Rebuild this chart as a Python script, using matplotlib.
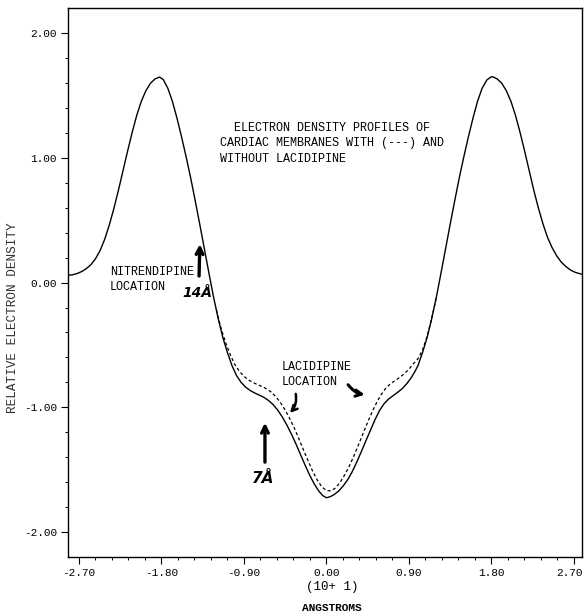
"""Electron density profiles of cardiac membranes with and without lacidipine."""
import matplotlib
matplotlib.use('Agg')
import matplotlib.pyplot as plt
import matplotlib.transforms as mtransforms
from matplotlib.ticker import FixedLocator, FormatStrFormatter

plt.rcParams['font.family'] = ['Liberation Mono', 'DejaVu Sans Mono']
plt.rcParams['axes.unicode_minus'] = False

# --- Data (x in units of 10 A) ---
# without lacidipine (solid)
x_solid = [-2.82, -2.77, -2.72, -2.67, -2.62, -2.57, -2.52, -2.47, -2.42, -2.37,
           -2.32, -2.27, -2.22, -2.17, -2.12, -2.07, -2.02, -1.97, -1.92, -1.87,
           -1.82, -1.78, -1.73, -1.68, -1.63, -1.58, -1.53, -1.48, -1.43, -1.38,
           -1.33, -1.28, -1.23, -1.18, -1.13, -1.08, -1.03, -0.98, -0.93, -0.88,
           -0.83, -0.78, -0.73, -0.68, -0.63, -0.58, -0.53, -0.48, -0.43, -0.38,
           -0.33, -0.28, -0.23, -0.18, -0.13, -0.08, -0.04, 0.00,
           0.04, 0.08, 0.13, 0.18, 0.23, 0.28, 0.33, 0.38, 0.43, 0.48,
           0.53, 0.58, 0.63, 0.68, 0.73, 0.78, 0.83, 0.88, 0.93, 0.97,
           1.00, 1.05, 1.10, 1.15, 1.20, 1.25, 1.30, 1.35, 1.40, 1.45,
           1.50, 1.55, 1.60, 1.65, 1.70, 1.75, 1.79, 1.815, 1.865, 1.915,
           1.965, 2.015, 2.065, 2.115, 2.165, 2.215, 2.265, 2.315, 2.365, 2.415,
           2.465, 2.515, 2.565, 2.615, 2.665, 2.715, 2.79]
y_solid = [0.058, 0.062, 0.072, 0.088, 0.111, 0.143, 0.190, 0.255, 0.345, 0.458,
           0.590, 0.737, 0.893, 1.050, 1.200, 1.337, 1.450, 1.535, 1.595, 1.630,
           1.645, 1.625, 1.555, 1.450, 1.315, 1.165, 1.005, 0.835, 0.650, 0.460,
           0.265, 0.070, -0.120, -0.290, -0.440, -0.560, -0.665, -0.745, -0.800, -0.838,
           -0.865, -0.885, -0.902, -0.920, -0.945, -0.978, -1.022, -1.077, -1.142, -1.215,
           -1.295, -1.380, -1.465, -1.545, -1.615, -1.672, -1.705, -1.723,
           -1.715, -1.700, -1.672, -1.632, -1.582, -1.518, -1.441, -1.357, -1.270, -1.185,
           -1.100, -1.025, -0.970, -0.932, -0.905, -0.878, -0.848, -0.808, -0.758, -0.708,
           -0.665, -0.560, -0.440, -0.290, -0.120, 0.070, 0.265, 0.460, 0.650, 0.835,
           1.005, 1.165, 1.315, 1.450, 1.555, 1.620, 1.643, 1.648, 1.630, 1.595,
           1.535, 1.450, 1.337, 1.200, 1.050, 0.893, 0.737, 0.595, 0.468, 0.360,
           0.278, 0.213, 0.163, 0.128, 0.100, 0.082, 0.066]

# with lacidipine (dashed), only where it leaves the solid profile
x_dash = [-1.20, -1.15, -1.10, -1.05, -1.00, -0.95, -0.90, -0.85, -0.80, -0.75,
          -0.70, -0.65, -0.60, -0.55, -0.50, -0.45, -0.40, -0.35, -0.30, -0.25,
          -0.20, -0.15, -0.10, -0.05, 0.00, 0.05, 0.10, 0.15, 0.20, 0.25,
          0.30, 0.35, 0.40, 0.45, 0.50, 0.55, 0.60, 0.65, 0.70, 0.75,
          0.80, 0.85, 0.90, 0.95, 1.00, 1.05, 1.10, 1.15, 1.20]
y_dash = [-0.220, -0.365, -0.480, -0.575, -0.655, -0.710, -0.750, -0.780, -0.800, -0.818,
          -0.833, -0.852, -0.878, -0.915, -0.962, -1.020, -1.088, -1.165, -1.250, -1.340,
          -1.425, -1.510, -1.580, -1.635, -1.665, -1.668, -1.645, -1.600, -1.540, -1.470,
          -1.390, -1.300, -1.210, -1.120, -1.035, -0.960, -0.895, -0.845, -0.810, -0.785,
          -0.760, -0.730, -0.695, -0.650, -0.610, -0.540, -0.430, -0.285, -0.120]

x_ticks = [-2.70, -1.80, -0.90, 0.00, 0.90, 1.80, 2.70]
x_minor = [-2.52, -2.34, -2.16, -1.98, -1.62, -1.44, -1.26, -1.08, -0.72, -0.54,
           -0.36, -0.18, 0.18, 0.36, 0.54, 0.72, 1.08, 1.26, 1.44, 1.62,
           1.98, 2.16, 2.34, 2.52]
y_ticks = [-2.00, -1.00, 0.00, 1.00, 2.00]
y_minor = [-1.8, -1.6, -1.4, -1.2, -0.8, -0.6, -0.4, -0.2, 0.2, 0.4, 0.6, 0.8,
           1.2, 1.4, 1.6, 1.8]

# --- Figure ---
fig = plt.figure(figsize=(5.85, 6.14), dpi=100)
ax = fig.add_axes([0.1162, 0.0933, 0.8786, 0.8937])

ax.plot(x_solid, y_solid, color='black', lw=1.0)
ax.plot(x_dash, y_dash, color='black', lw=0.9, ls=(0, (2.5, 2.0)))

ax.set_xlim(-2.82, 2.79)
ax.set_ylim(-2.195, 2.198)

ax.set_xticks(x_ticks)
ax.xaxis.set_minor_locator(FixedLocator(x_minor))
ax.set_yticks(y_ticks)
ax.yaxis.set_minor_locator(FixedLocator(y_minor))
ax.xaxis.set_major_formatter(FormatStrFormatter('%.2f'))
ax.yaxis.set_major_formatter(FormatStrFormatter('%.2f'))
ax.tick_params(which='major', direction='out', length=5, width=0.8, labelsize=8, pad=3)
ax.tick_params(which='minor', direction='out', length=2.5, width=0.7)
for sp in ax.spines.values():
    sp.set_linewidth(1.0)

# last x tick label sits right at the figure edge: nudge it in a little
last = ax.xaxis.get_major_ticks()[-1].label1
last.set_transform(last.get_transform() +
                   mtransforms.ScaledTranslation(-4 / 100, 0, fig.dpi_scale_trans))

# axis labels
fig.text(0.022, 0.482, 'RELATIVE ELECTRON DENSITY', rotation=90, ha='center', va='center',
         fontsize=9.2, color='#333333')
fig.text(0.568, 0.044, '(10+ 1)', ha='center', va='center', fontsize=9)
fig.text(0.567, 0.010, 'ANGSTROMS', ha='center', va='center', fontsize=8, fontweight='bold')

# typed annotations
ax.text(-1.162, 1.236, '  ELECTRON DENSITY PROFILES OF', fontsize=8.5, va='center', ha='left')
ax.text(-1.162, 1.115, 'CARDIAC MEMBRANES WITH (---) AND', fontsize=8.5, va='center', ha='left')
ax.text(-1.162, 0.985, 'WITHOUT LACIDIPINE', fontsize=8.5, va='center', ha='left')

ax.text(-2.362, 0.086, 'NITRENDIPINE', fontsize=8.5, va='center', ha='left')
ax.text(-2.362, -0.036, 'LOCATION', fontsize=8.5, va='center', ha='left')

ax.text(-0.485, -0.676, 'LACIDIPINE', fontsize=8.5, va='center', ha='left')
ax.text(-0.485, -0.797, 'LOCATION', fontsize=8.5, va='center', ha='left')

# handwritten marks
hand = dict(family='DejaVu Sans', fontweight='bold', fontstyle='italic', color='black')
ax.annotate('', xy=(-1.38, 0.33), xytext=(-1.39, 0.03),
            arrowprops=dict(arrowstyle='->', lw=2.4, color='black', mutation_scale=12))
ax.text(-1.41, -0.08, '14Å', fontsize=10, ha='center', va='center', **hand)

ax.annotate('', xy=(-0.67, -1.10), xytext=(-0.67, -1.46),
            arrowprops=dict(arrowstyle='->', lw=2.4, color='black', mutation_scale=12))
ax.text(-0.69, -1.57, '7Å', fontsize=11, ha='center', va='center', **hand)

ax.annotate('', xy=(-0.42, -1.06), xytext=(-0.34, -0.87),
            arrowprops=dict(arrowstyle='->', lw=1.8, color='black', mutation_scale=10,
                            connectionstyle='arc3,rad=-0.3'))
ax.annotate('', xy=(0.45, -0.90), xytext=(0.22, -0.80),
            arrowprops=dict(arrowstyle='->', lw=2.2, color='black', mutation_scale=11,
                            connectionstyle='arc3,rad=0.25'))

fig.savefig('out.png', dpi=100)
